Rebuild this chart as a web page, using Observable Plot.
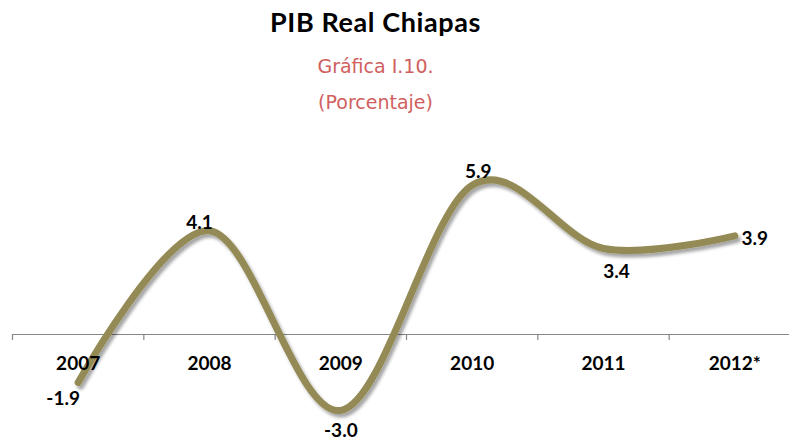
<!DOCTYPE html>
<html>
<head>
<meta charset="utf-8">
<script src="https://cdn.jsdelivr.net/npm/d3@7"></script>
<script src="https://cdn.jsdelivr.net/npm/@observablehq/plot@0.6"></script>
<style>
  html, body { margin: 0; padding: 0; background: #fff; overflow: hidden; }
  #header { position: relative; width: 789px; height: 122px; }
  #header div { position: absolute; left: 0; width: 751px; text-align: center; line-height: 1; white-space: nowrap; }
  #title { top: 8px; font-family: Lato, sans-serif; font-weight: 700; font-size: 27px; letter-spacing: 0.6px; color: #000; }
  #subtitle { top: 57px; font-family: "DejaVu Sans", sans-serif; font-weight: 400; font-size: 19px; color: #D0605E; }
  #unit { top: 93px; font-family: "DejaVu Sans", sans-serif; font-weight: 400; font-size: 19px; color: #D0605E; }
</style>
</head>
<body>
<div id="header">
  <div id="title"></div>
  <div id="subtitle"></div>
  <div id="unit"></div>
</div>
<div id="chart"></div>
<script>
// ---- data ----
const titleText = "PIB Real Chiapas";
const subtitleText = "Gráfica I.10.";
const unitText = "(Porcentaje)";
const years = ["2007", "2008", "2009", "2010", "2011", "2012*"];
const values = [-1.9, 4.1, -3.0, 5.9, 3.4, 3.9];
const valueLabels = ["-1.9", "4.1", "-3.0", "5.9", "3.4", "3.9"];

document.getElementById("title").textContent = titleText;
document.getElementById("subtitle").textContent = subtitleText;
document.getElementById("unit").textContent = unitText;

const rows = years.map((year, i) => ({i, year, value: values[i], label: valueLabels[i]}));
const boundaries = d3.range(years.length + 1).map(i => i - 0.5);

// ---- style / layout ----
const k = 25.3;        // px per percentage point
const zeroY = 212;     // axis position inside the svg
const lineColor = "#948A54";
const axisColor = "#868686";
const labelFont = {fontFamily: "Lato, sans-serif", fontWeight: "bold", fontSize: 19, fill: "#000"};
// Excel-like data label placements (dx, dy in px)
const labelOffsets = [[-15, 16], [-10, -8], [0, 21], [6, -13], [13, 23], [20, 3]];

const plot = Plot.plot({
  width: 789,
  height: 320,
  marginLeft: 12,
  marginRight: 0,
  marginTop: 0,
  marginBottom: 0,
  style: {fontFamily: "Lato, sans-serif", background: "#fff"},
  x: {type: "linear", domain: [-0.5, years.length - 0.5], range: [12, 800], axis: null},
  y: {domain: [-4, 7], range: [zeroY + 4 * k, zeroY - 7 * k], axis: null},
  marks: [
    Plot.ruleY([0], {stroke: axisColor, strokeWidth: 1.2}),
    Plot.ruleX(boundaries, {x: d => d, y1: 0, y2: 0, insetBottom: -6, stroke: axisColor, strokeWidth: 1.2}),
    Plot.line(rows, {x: "i", y: "value", curve: "cardinal", stroke: lineColor, strokeWidth: 7, strokeLinecap: "round", strokeLinejoin: "round"}),
    Plot.text(rows, {x: "i", y: () => 0, text: "year", dy: 29, ...labelFont}),
    ...rows.map((r, j) => Plot.text([r], {x: "i", y: "value", text: "label", dx: labelOffsets[j][0], dy: labelOffsets[j][1], ...labelFont}))
  ]
});

// drop shadow on the line
const svg = d3.select(plot);
const defs = svg.insert("defs", ":first-child");
const f = defs.append("filter").attr("id", "lineShadow").attr("x", "-10%").attr("y", "-10%").attr("width", "125%").attr("height", "130%");
f.append("feDropShadow").attr("dx", 2.5).attr("dy", 3.5).attr("stdDeviation", 1.8).attr("flood-color", "#000").attr("flood-opacity", 0.35);
svg.selectAll("g[aria-label='line'] path").attr("filter", "url(#lineShadow)");

document.getElementById("chart").appendChild(plot);
</script>
</body>
</html>
